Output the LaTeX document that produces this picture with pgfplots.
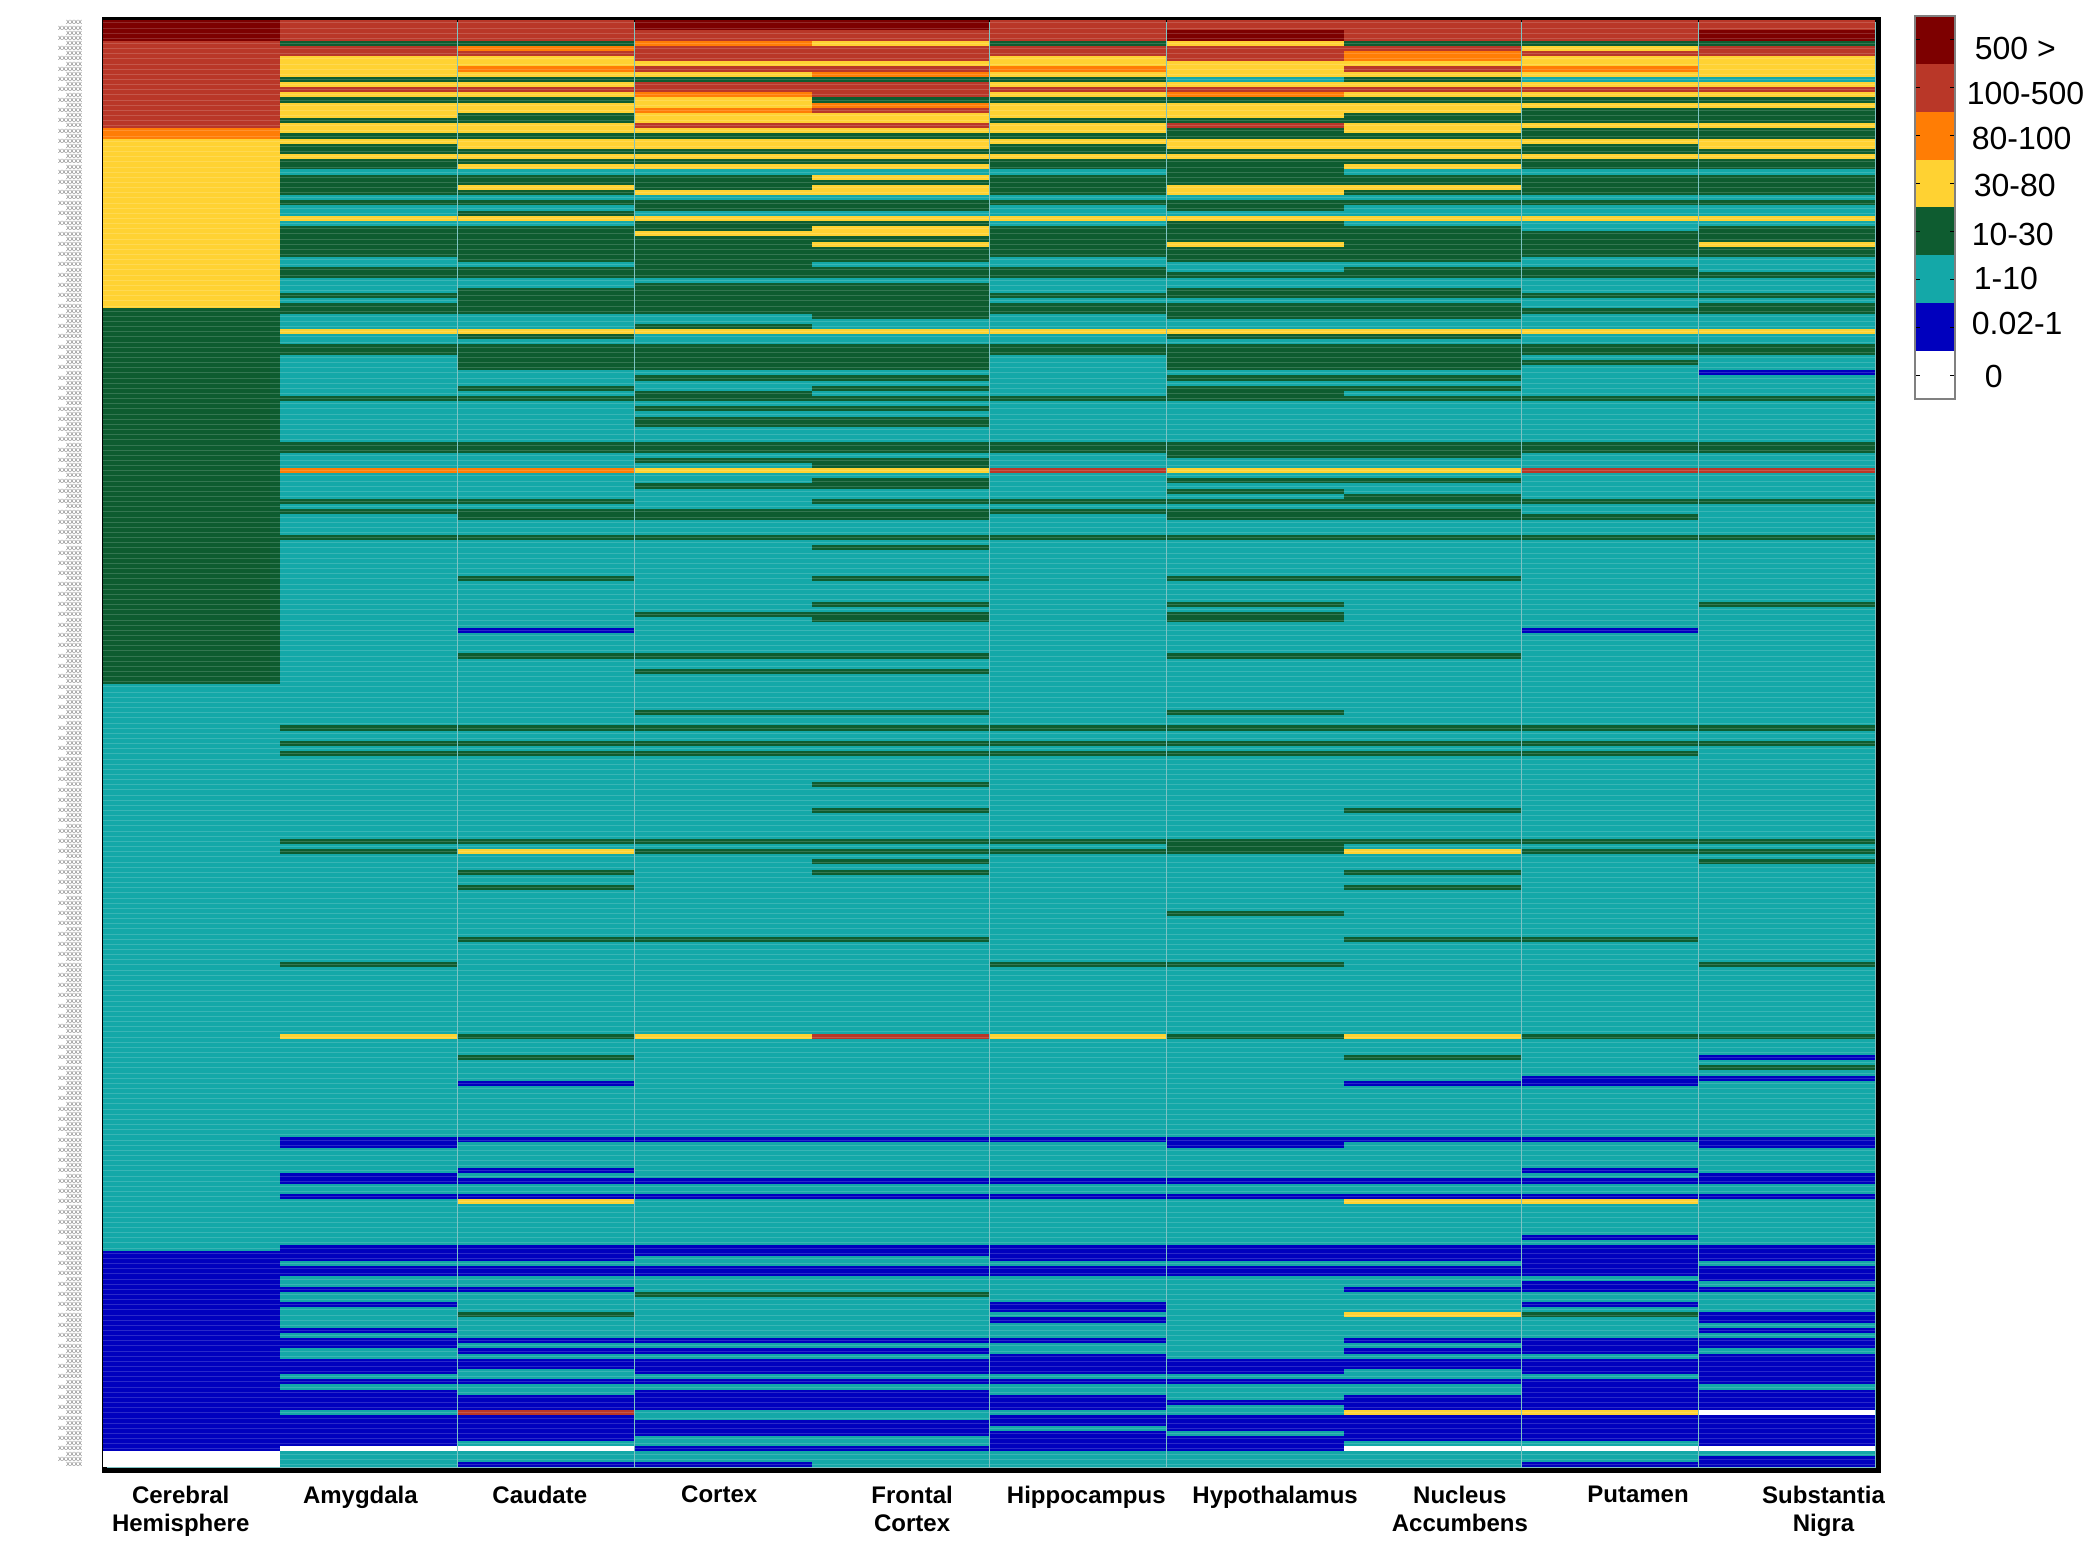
\documentclass[border=0pt]{standalone}
\usepackage{fontspec}
\setmainfont{Liberation Sans}
\usepackage{pgfplots}
\usepackage{pgfplotstable}
\pgfplotsset{compat=1.18}

\definecolor{k0}{RGB}{255,255,255}
\definecolor{k1}{RGB}{0,0,190}
\definecolor{k2}{RGB}{20,168,168}
\definecolor{k3}{RGB}{14,92,48}
\definecolor{k4}{RGB}{255,210,50}
\definecolor{k5}{RGB}{255,125,5}
\definecolor{k6}{RGB}{185,55,40}
\definecolor{k7}{RGB}{125,0,0}

% one cell of the heatmap, 1px = 0.5pt; the pale line gives the row striping
\pgfdeclareplotmark{cell}{%
  \pgfpathrectangle{\pgfpoint{-44.15pt}{-1.36pt}}{\pgfpoint{88.3pt}{2.72pt}}%
  \pgfusepathqfill
  \begin{pgfscope}%
    \pgfsetstrokecolor{white}\pgfsetstrokeopacity{0.16}\pgfsetlinewidth{0.5pt}%
    \pgfpathmoveto{\pgfpoint{-44.15pt}{0pt}}\pgfpathlineto{\pgfpoint{44.15pt}{0pt}}%
    \pgfusepathqstroke
  \end{pgfscope}}

% legend label: left offset, vertical offset, text
\newcommand{\leglab}[3]{\hspace{#1}\raisebox{#2}[0pt][0pt]{#3}}

% class per row: 0 = 0, 1 = 0.02-1, 2 = 1-10, 3 = 10-30, 4 = 30-80, 5 = 80-100, 6 = 100-500, 7 = 500>
\pgfplotstableread{
c0 c1 c2 c3 c4 c5 c6 c7 c8 c9
7 6 6 7 7 6 6 6 6 6
7 6 6 7 7 6 6 6 6 6
7 6 6 6 6 6 7 6 6 7
7 6 6 6 6 6 7 6 6 7
6 3 3 5 4 3 4 3 3 3
6 6 5 6 6 6 6 6 4 6
6 6 6 6 6 6 6 5 6 6
6 4 4 6 6 4 6 5 4 4
6 4 4 4 4 4 4 4 4 4
6 4 5 6 6 5 4 6 5 4
6 4 4 4 5 4 4 4 4 4
6 3 3 3 3 3 2 3 2 2
6 4 4 6 6 4 4 4 4 4
6 6 6 6 6 6 6 6 6 6
6 4 4 5 6 4 5 4 4 4
6 3 3 4 3 3 3 3 3 3
6 4 4 4 5 4 4 4 4 4
6 4 4 5 6 4 4 4 3 3
6 4 3 4 4 4 4 3 3 3
6 3 3 4 4 3 3 3 3 3
6 4 4 6 6 4 6 4 4 4
5 4 4 4 4 4 3 4 3 3
5 3 3 3 3 3 3 3 3 3
4 4 4 4 4 4 4 4 4 4
4 3 4 4 4 3 4 4 3 4
4 3 3 3 3 3 3 3 3 3
4 4 4 4 4 4 4 4 4 4
4 3 3 3 3 3 3 3 3 3
4 3 4 4 4 3 3 4 3 3
4 2 2 2 2 2 3 2 2 2
4 3 3 3 4 3 3 3 3 3
4 3 3 3 3 3 3 3 3 3
4 3 4 3 4 3 4 4 3 3
4 3 3 4 4 3 4 3 3 3
4 2 2 2 2 2 2 2 2 2
4 3 3 3 3 3 3 3 3 3
4 2 2 3 3 2 3 2 2 2
4 2 3 2 2 2 2 2 2 2
4 4 4 4 4 4 4 4 4 4
4 2 2 3 3 2 3 2 2 2
4 3 3 3 4 3 3 3 2 3
4 3 3 4 4 3 3 3 3 3
4 3 3 3 3 3 3 3 3 3
4 3 3 3 4 3 4 3 3 4
4 3 3 3 3 3 3 3 3 3
4 3 3 3 3 3 3 3 3 3
4 2 3 3 3 2 3 3 2 2
4 2 2 3 2 2 2 2 2 2
4 3 3 3 3 3 2 3 3 2
4 3 3 3 3 3 3 3 3 3
4 2 2 2 2 2 2 2 2 2
4 2 2 3 3 2 2 2 2 2
4 2 3 3 3 2 3 3 2 2
4 3 3 3 3 3 3 3 3 3
4 2 3 3 3 2 2 2 2 2
4 3 3 3 3 3 3 3 2 3
3 3 3 3 3 3 3 3 3 3
3 2 2 2 3 2 3 3 2 2
3 2 2 2 2 2 2 2 2 2
3 2 2 3 2 2 2 2 2 2
3 4 4 4 4 4 4 4 4 4
3 2 3 2 2 2 3 3 2 2
3 2 2 2 2 2 2 2 2 2
3 3 3 3 3 3 3 3 3 3
3 3 3 3 3 3 3 3 3 3
3 2 3 3 3 2 3 3 2 2
3 2 3 3 3 2 3 3 3 2
3 2 3 3 3 2 3 3 2 2
3 2 2 2 2 2 2 2 2 1
3 2 2 3 3 2 3 3 2 2
3 2 2 2 2 2 2 2 2 2
3 2 3 2 3 2 3 3 2 2
3 2 2 3 2 2 3 2 2 2
3 3 3 3 3 3 3 3 3 3
3 2 2 2 2 2 2 2 2 2
3 2 2 3 3 2 2 2 2 2
3 2 2 2 2 2 2 2 2 2
3 2 2 3 3 2 2 2 2 2
3 2 2 3 3 2 2 2 2 2
3 2 2 2 2 2 2 2 2 2
3 2 2 2 2 2 2 2 2 2
3 2 2 2 2 2 2 2 2 2
3 3 3 3 3 3 3 3 3 3
3 3 3 3 3 3 3 3 3 3
3 2 2 2 2 2 3 3 2 2
3 2 2 3 3 2 2 2 2 2
3 2 2 2 3 2 2 2 2 2
3 5 5 4 4 6 4 4 6 6
3 2 2 2 2 2 2 2 2 2
3 2 2 2 3 2 3 3 2 2
3 2 2 3 3 2 2 2 2 2
3 2 2 2 2 2 3 2 2 2
3 2 2 2 2 2 2 3 2 2
3 3 3 2 3 3 3 3 3 3
3 2 2 2 2 2 2 2 2 2
3 3 3 3 3 3 3 3 2 2
3 2 3 3 3 2 3 3 3 2
3 2 2 2 2 2 2 2 2 2
3 2 2 2 2 2 2 2 2 2
3 2 2 2 2 2 2 2 2 2
3 3 3 3 3 3 3 3 3 3
3 2 2 2 2 2 2 2 2 2
3 2 2 2 3 2 2 2 2 2
3 2 2 2 2 2 2 2 2 2
3 2 2 2 2 2 2 2 2 2
3 2 2 2 2 2 2 2 2 2
3 2 2 2 2 2 2 2 2 2
3 2 2 2 2 2 2 2 2 2
3 2 3 2 3 2 3 3 2 2
3 2 2 2 2 2 2 2 2 2
3 2 2 2 2 2 2 2 2 2
3 2 2 2 2 2 2 2 2 2
3 2 2 2 2 2 2 2 2 2
3 2 2 2 3 2 3 2 2 3
3 2 2 2 2 2 2 2 2 2
3 2 2 3 3 2 3 2 2 2
3 2 2 2 3 2 3 2 2 2
3 2 2 2 2 2 2 2 2 2
3 2 1 2 2 2 2 2 1 2
3 2 2 2 2 2 2 2 2 2
3 2 2 2 2 2 2 2 2 2
3 2 2 2 2 2 2 2 2 2
3 2 2 2 2 2 2 2 2 2
3 2 3 3 3 2 3 3 2 2
3 2 2 2 2 2 2 2 2 2
3 2 2 2 2 2 2 2 2 2
3 2 2 3 3 2 2 2 2 2
3 2 2 2 2 2 2 2 2 2
3 2 2 2 2 2 2 2 2 2
2 2 2 2 2 2 2 2 2 2
2 2 2 2 2 2 2 2 2 2
2 2 2 2 2 2 2 2 2 2
2 2 2 2 2 2 2 2 2 2
2 2 2 2 2 2 2 2 2 2
2 2 2 3 3 2 3 2 2 2
2 2 2 2 2 2 2 2 2 2
2 2 2 2 2 2 2 2 2 2
2 3 3 3 3 3 3 3 3 3
2 2 2 2 2 2 2 2 2 2
2 2 2 2 2 2 2 2 2 2
2 3 3 3 3 3 3 3 3 3
2 2 2 2 2 2 2 2 2 2
2 3 3 3 3 3 3 3 3 2
2 2 2 2 2 2 2 2 2 2
2 2 2 2 2 2 2 2 2 2
2 2 2 2 2 2 2 2 2 2
2 2 2 2 2 2 2 2 2 2
2 2 2 2 2 2 2 2 2 2
2 2 2 2 3 2 2 2 2 2
2 2 2 2 2 2 2 2 2 2
2 2 2 2 2 2 2 2 2 2
2 2 2 2 2 2 2 2 2 2
2 2 2 2 2 2 2 2 2 2
2 2 2 2 3 2 2 3 2 2
2 2 2 2 2 2 2 2 2 2
2 2 2 2 2 2 2 2 2 2
2 2 2 2 2 2 2 2 2 2
2 2 2 2 2 2 2 2 2 2
2 2 2 2 2 2 2 2 2 2
2 3 3 3 3 3 3 3 3 3
2 2 2 2 2 2 3 2 2 2
2 3 4 3 3 3 3 4 3 3
2 2 2 2 2 2 2 2 2 2
2 2 2 2 3 2 2 2 2 3
2 2 2 2 2 2 2 2 2 2
2 2 3 2 3 2 2 3 2 2
2 2 2 2 2 2 2 2 2 2
2 2 2 2 2 2 2 2 2 2
2 2 3 2 2 2 2 3 2 2
2 2 2 2 2 2 2 2 2 2
2 2 2 2 2 2 2 2 2 2
2 2 2 2 2 2 2 2 2 2
2 2 2 2 2 2 2 2 2 2
2 2 2 2 2 2 3 2 2 2
2 2 2 2 2 2 2 2 2 2
2 2 2 2 2 2 2 2 2 2
2 2 2 2 2 2 2 2 2 2
2 2 2 2 2 2 2 2 2 2
2 2 3 3 3 2 2 3 3 2
2 2 2 2 2 2 2 2 2 2
2 2 2 2 2 2 2 2 2 2
2 2 2 2 2 2 2 2 2 2
2 2 2 2 2 2 2 2 2 2
2 3 2 2 2 3 3 2 2 3
2 2 2 2 2 2 2 2 2 2
2 2 2 2 2 2 2 2 2 2
2 2 2 2 2 2 2 2 2 2
2 2 2 2 2 2 2 2 2 2
2 2 2 2 2 2 2 2 2 2
2 2 2 2 2 2 2 2 2 2
2 2 2 2 2 2 2 2 2 2
2 2 2 2 2 2 2 2 2 2
2 2 2 2 2 2 2 2 2 2
2 2 2 2 2 2 2 2 2 2
2 2 2 2 2 2 2 2 2 2
2 2 2 2 2 2 2 2 2 2
2 2 2 2 2 2 2 2 2 2
2 4 3 4 6 4 3 4 3 3
2 2 2 2 2 2 2 2 2 2
2 2 2 2 2 2 2 2 2 2
2 2 2 2 2 2 2 2 2 2
2 2 3 2 2 2 2 3 2 1
2 2 2 2 2 2 2 2 2 2
2 2 2 2 2 2 2 2 2 3
2 2 2 2 2 2 2 2 2 2
2 2 2 2 2 2 2 2 1 1
2 2 1 2 2 2 2 1 1 2
2 2 2 2 2 2 2 2 2 2
2 2 2 2 2 2 2 2 2 2
2 2 2 2 2 2 2 2 2 2
2 2 2 2 2 2 2 2 2 2
2 2 2 2 2 2 2 2 2 2
2 2 2 2 2 2 2 2 2 2
2 2 2 2 2 2 2 2 2 2
2 2 2 2 2 2 2 2 2 2
2 2 2 2 2 2 2 2 2 2
2 2 2 2 2 2 2 2 2 2
2 1 1 1 1 1 1 1 1 1
2 1 2 2 2 2 1 2 2 1
2 2 2 2 2 2 2 2 2 2
2 2 2 2 2 2 2 2 2 2
2 2 2 2 2 2 2 2 2 2
2 2 2 2 2 2 2 2 2 2
2 2 1 2 2 2 2 2 1 2
2 1 2 2 2 2 2 2 2 1
2 1 1 1 1 1 1 1 1 1
2 2 2 2 2 2 2 2 2 2
2 2 2 2 2 2 2 2 2 2
2 1 1 1 1 1 1 1 1 1
2 2 4 2 2 2 2 4 4 2
2 2 2 2 2 2 2 2 2 2
2 2 2 2 2 2 2 2 2 2
2 2 2 2 2 2 2 2 2 2
2 2 2 2 2 2 2 2 2 2
2 2 2 2 2 2 2 2 2 2
2 2 2 2 2 2 2 2 2 2
2 2 2 2 2 2 2 2 1 2
2 2 2 2 2 2 2 2 2 2
2 1 1 1 1 1 1 1 1 1
1 1 1 1 1 1 1 1 1 1
1 1 1 2 2 1 1 1 1 1
1 2 2 2 2 2 2 2 1 2
1 1 1 1 1 1 1 1 1 1
1 1 1 1 1 1 1 1 1 1
1 2 2 2 2 2 2 2 2 1
1 2 2 2 2 2 2 2 1 2
1 1 1 2 2 2 2 1 1 1
1 2 2 3 3 2 2 2 2 2
1 2 2 2 2 2 2 2 2 2
1 1 2 2 2 1 2 2 1 2
1 2 2 2 2 1 2 2 2 2
1 2 3 2 2 2 2 4 3 1
1 2 2 2 2 1 2 2 2 1
1 2 2 2 2 2 2 2 2 2
1 1 2 2 2 2 2 2 2 1
1 2 2 2 2 2 2 2 2 2
1 1 1 1 1 1 2 1 1 1
1 1 2 2 2 2 2 2 1 1
1 2 1 1 1 2 2 1 1 2
1 2 2 2 2 1 2 2 2 1
1 1 1 1 1 1 1 1 1 1
1 1 1 1 1 1 1 1 1 1
1 1 2 1 1 1 1 2 1 1
1 2 2 2 2 2 2 2 2 1
1 1 1 1 1 1 1 1 1 1
1 2 2 2 2 2 2 2 1 2
1 1 2 1 1 2 2 2 1 1
1 1 1 1 1 1 2 1 1 1
1 1 1 1 1 1 1 1 1 1
1 1 1 1 1 1 2 1 1 1
1 2 6 2 2 2 2 4 4 0
1 1 1 2 2 1 1 1 1 1
1 1 1 1 1 1 1 1 1 1
1 1 1 1 1 2 1 1 1 1
1 1 1 1 1 1 2 1 1 1
1 1 1 2 2 1 1 1 1 1
1 1 2 2 2 1 1 2 2 1
1 0 0 1 1 1 1 0 0 0
0 2 2 2 2 2 2 2 2 2
0 2 2 2 2 2 2 2 2 1
0 2 1 1 2 2 2 2 1 1
}\kidney

\begin{document}
\begin{tikzpicture}
\path[use as bounding box] (0,0) rectangle (1050pt,777pt);

\begin{axis}[
    name=heat,
    at={(52.25pt,42pt)}, anchor=south west,
    scale only axis,
    width=887pt, height=725.5pt,
    xmin=-0.49, xmax=9.515,
    ymin=-0.75, ymax=281.1,
    y dir=reverse,
    axis on top,
    axis line style={black, line width=2.5pt},
    axis background/.style={fill={rgb,255:red,125;green,195;blue,195}},
    major tick length=0pt,
    colormap={kb}{rgb255=(255,255,255) rgb255=(0,0,190) rgb255=(20,168,168)
      rgb255=(14,92,48) rgb255=(255,210,50) rgb255=(255,125,5)
      rgb255=(185,55,40) rgb255=(125,0,0)},
    point meta min=0, point meta max=7,
    xtick={-0.06,0.953,1.965,2.977,4.065,5.047,6.112,7.154,8.159,9.205},
    xticklabels={{Cerebral\hspace{19.4pt}\\Hemisphere},Amygdala,Caudate,Cortex,{Frontal\\Cortex},
      Hippocampus,Hypothalamus,{Nucleus\\Accumbens},Putamen,{Substantia\\Nigra\hspace{14.7pt}}},
    xticklabel style={align=center, anchor=north, yshift=-4.5pt,
      font=\fontsize{12}{14}\selectfont\bfseries},
    % gene names are illegible in the source, so these are only placeholders of the same size
    ytick={0,1,...,280},
    yticklabel={\ifodd\ticknum XXXXXX\else XXXX\fi},
    yticklabel style={font=\fontsize{3}{3}\selectfont, text=gray!80!black, xshift=-11pt, inner sep=0pt},
]
\pgfplotsinvokeforeach{0,...,9}{
  \addplot[scatter, only marks, mark=cell,
    scatter/use mapped color={draw=none, fill=mapped color},
    point meta=\thisrow{c#1}]
    table[x expr=#1, y expr=\coordindex] {\kidney};
}
\end{axis}

\begin{axis}[
    at={(957.5pt,577.5pt)}, anchor=south west,
    scale only axis,
    width=20pt, height=191.5pt,
    ybar stacked, bar width=20pt,
    xmin=-0.5, xmax=0.5, ymin=0, ymax=8,
    xtick=\empty,
    ytick={0.5,1.5,...,7.5},
    yticklabels={\leglab{9pt}{-6.4pt}{0},\leglab{2.5pt}{-3.7pt}{0.02-1},\leglab{3.5pt}{-5pt}{1-10},
      \leglab{2.5pt}{-7pt}{10-30},\leglab{3.5pt}{-6.4pt}{30-80},\leglab{2.5pt}{-7pt}{80-100},
      \leglab{0pt}{-8.4pt}{100-500},\leglab{4pt}{-9.7pt}{500 >}},
    yticklabel pos=right, ytick pos=both,
    tick align=inside, major tick length=2.5pt,
    tick style={black, line width=0.5pt},
    axis on top,
    axis line style={gray, line width=0.6pt},
    yticklabel style={anchor=west, font=\fontsize{16}{19}\selectfont, xshift=5.7pt, inner sep=0pt},
]
\addplot[fill=k0, draw=none] coordinates {(0,1)};
\addplot[fill=k1, draw=none] coordinates {(0,1)};
\addplot[fill=k2, draw=none] coordinates {(0,1)};
\addplot[fill=k3, draw=none] coordinates {(0,1)};
\addplot[fill=k4, draw=none] coordinates {(0,1)};
\addplot[fill=k5, draw=none] coordinates {(0,1)};
\addplot[fill=k6, draw=none] coordinates {(0,1)};
\addplot[fill=k7, draw=none] coordinates {(0,1)};
\end{axis}
\end{tikzpicture}
\end{document}
